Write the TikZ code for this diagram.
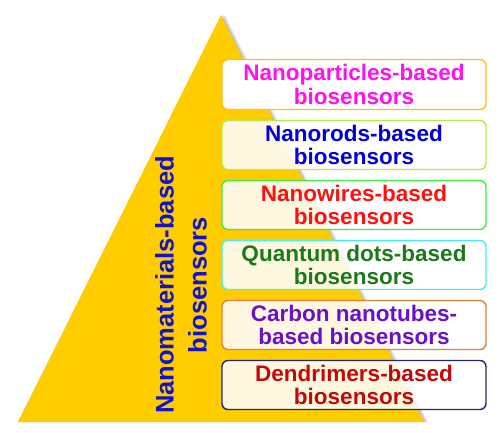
\documentclass[tikz,border=0pt]{standalone}
\usepackage{fontspec}
\setmainfont{Liberation Sans}
\usetikzlibrary{positioning}
\definecolor{pyramid}{HTML}{FFCC00}
\definecolor{titleblue}{HTML}{1212C8}
\definecolor{npline}{HTML}{FFBE1A}
\definecolor{nrline}{HTML}{B2EE4A}
\definecolor{nwline}{HTML}{3CEE3C}
\definecolor{qdline}{HTML}{3CF4F4}
\definecolor{cnline}{HTML}{DE8040}
\definecolor{dmline}{HTML}{262670}
\definecolor{nptext}{HTML}{FF10F0}
\definecolor{nrtext}{HTML}{0000DD}
\definecolor{nwtext}{HTML}{FF1010}
\definecolor{qdtext}{HTML}{1A7A1A}
\definecolor{cntext}{HTML}{6A10CC}
\definecolor{dmtext}{HTML}{C40808}
\begin{document}
\begin{tikzpicture}[
			x=1pt, y=-1pt,
			node distance=9.6pt,
			item/.style={draw, line width=1.4pt, rounded corners=6pt, fill=white, fill opacity=0.88, text opacity=1, minimum width=264pt, minimum height=49pt, align=center, inner sep=1pt, font=\bfseries\fontsize{22.5}{23.5}\selectfont}
			]
			\useasboundingbox (0,0) rectangle (500,433);
			% Pyramid
			\foreach \d in {1,...,4}
				\fill[black, opacity=0.07] (221+\d,15) -- (424+\d,422) -- (18,422) -- cycle;
			\fill[pyramid] (221,15) -- (424,422) -- (18,422) -- cycle;
			\node[rotate=90, text=titleblue, align=center, font=\bfseries\fontsize{25.5}{33}\selectfont] (title) at (181,285) {Nanomaterials-based\\biosensors};
			
			% Nodes
			\node[item, draw=npline, text=nptext, fill opacity=1, minimum height=50pt] (particles) at (354,84.5) {Nanoparticles-based\\biosensors};
			\node[item, draw=nrline, text=nrtext, below=of particles] (rods) {Nanorods-based\\biosensors};
			\node[item, draw=nwline, text=nwtext, below=of rods] (wires) {Nanowires-based\\biosensors};
			\node[item, draw=qdline, text=qdtext, below=of wires] (dots) {Quantum dots-based\\biosensors};
			\node[item, draw=cnline, text=cntext, below=of dots] (tubes) {Carbon nanotubes-\\based biosensors};
			\node[item, draw=dmline, text=dmtext, below=of tubes] (dendrimers) {Dendrimers-based\\biosensors};
		\end{tikzpicture}
\end{document}
